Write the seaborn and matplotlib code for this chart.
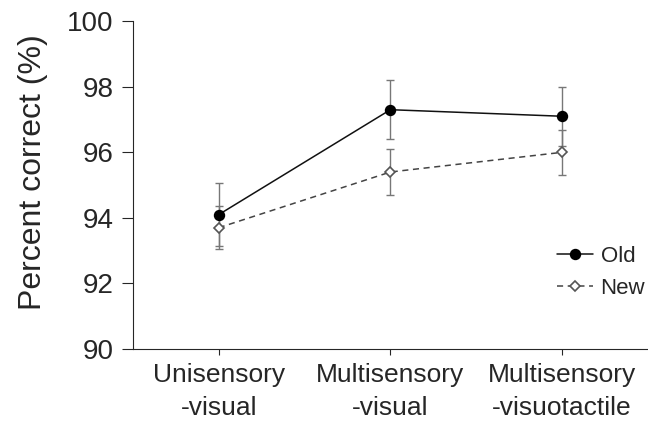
import pandas as pd
import matplotlib.pyplot as plt
import seaborn as sns

conditions = ["Unisensory\n-visual", "Multisensory\n-visual", "Multisensory\n-visuotactile"]
old_mean = [94.1, 97.3, 97.1]
old_err = [0.95, 0.9, 0.9]
new_mean = [93.7, 95.4, 96.0]
new_err = [0.65, 0.7, 0.68]

df = pd.DataFrame({
    "condition": conditions * 2,
    "pct": old_mean + new_mean,
    "err": old_err + new_err,
    "group": ["Old"] * 3 + ["New"] * 3,
})

sns.set_style("ticks")
plt.rcParams["font.family"] = ["Liberation Sans", "DejaVu Sans"]

fig = plt.figure(figsize=(6.48, 4.32), dpi=100)
ax = fig.add_axes([0.205, 0.192, 0.795, 0.759])

styles = {
    "Old": dict(color="#111111", ls="-", marker="o", mfc="black", mec="black", ms=7),
    "New": dict(color="#444444", ls=(0, (4, 3)), marker="D", mfc="white", mec="#555555", ms=5.5),
}

for g in ["Old", "New"]:
    d = df[df["group"] == g]
    st = styles[g]
    ax.errorbar(d["condition"], d["pct"], yerr=d["err"], fmt="none",
                ecolor="#777777", elinewidth=1, capsize=3, capthick=1, zorder=1)
    sns.lineplot(data=d, x="condition", y="pct", ax=ax, sort=False,
                 color=st["color"], linestyle=st["ls"], lw=1.1,
                 marker=st["marker"], markerfacecolor=st["mfc"],
                 markeredgecolor=st["mec"], markersize=st["ms"],
                 markeredgewidth=1.2, label=g, zorder=3)

ax.set_xlim(-0.5, 2.5)
ax.set_ylim(90, 100)
ax.set_yticks([90, 92, 94, 96, 98, 100])
ax.set_xlabel("")
ax.set_ylabel("Percent correct (%)", fontsize=23)
ax.yaxis.set_label_coords(-0.165, 0.54)
ax.tick_params(axis="y", labelsize=20, length=8, width=0.8, pad=6)
ax.tick_params(axis="x", labelsize=19, length=4, width=0.8, pad=6)
for lab in ax.get_xticklabels():
    lab.set_linespacing(1.5)

sns.despine(ax=ax)
ax.spines["left"].set_linewidth(0.8)
ax.spines["bottom"].set_linewidth(0.8)

ax.legend(loc="upper left", bbox_to_anchor=(0.785, 0.375), frameon=False,
          fontsize=16, handlelength=1.6, handletextpad=0.35, labelspacing=0.5)

fig.savefig("out.png", dpi=100)
